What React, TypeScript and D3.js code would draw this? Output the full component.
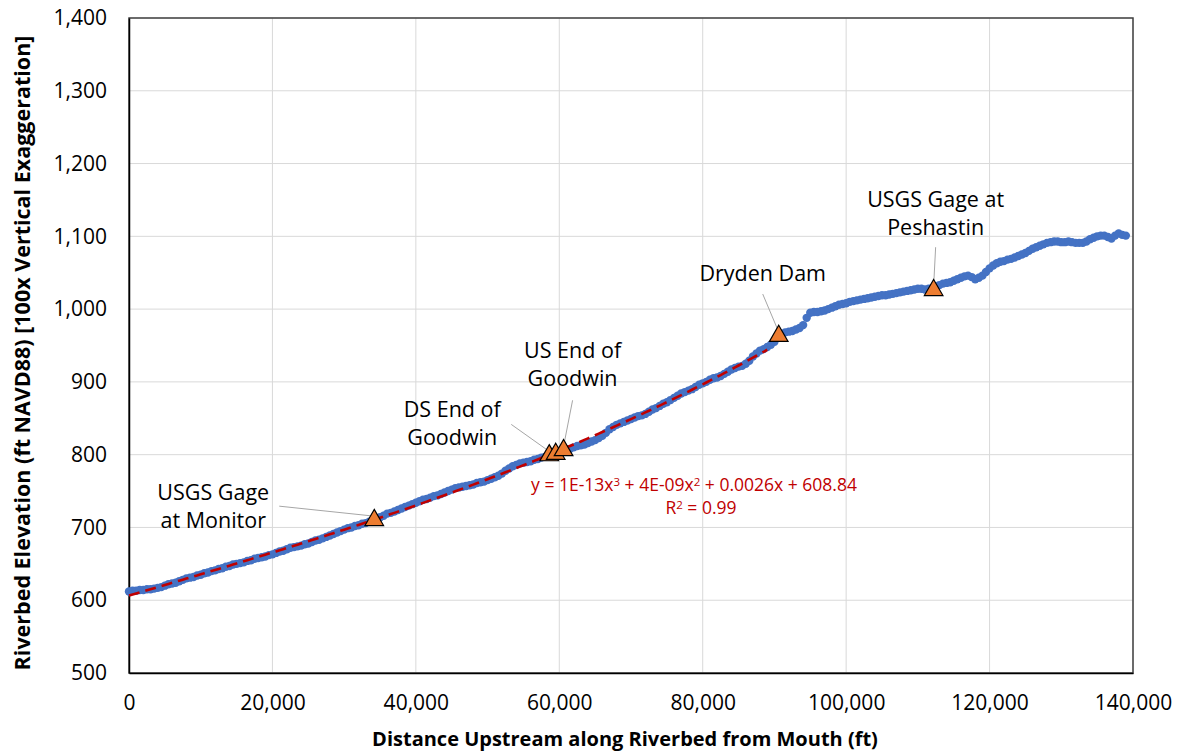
import React, { useEffect, useRef } from 'react';
import * as d3 from 'd3';

const W = 1183;
const H = 753;
const M = { top: 18, right: 50, bottom: 80, left: 129 };

// riverbed profile (ft from mouth)
const distanceFt = [
  0, 500, 1000, 1500, 2000, 2500, 3000, 3500, 4000, 4500, 5000, 5500, 6000, 6500, 7000, 7500, 8000, 8500, 9000, 9500,
  10000, 10500, 11000, 11500, 12000, 12500, 13000, 13500, 14000, 14500, 15000, 15500, 16000, 16500, 17000, 17500, 18000, 18500, 19000, 19500,
  20000, 20500, 21000, 21500, 22000, 22500, 23000, 23500, 24000, 24500, 25000, 25500, 26000, 26500, 27000, 27500, 28000, 28500, 29000, 29500,
  30000, 30500, 31000, 31500, 32000, 32500, 33000, 33500, 34000, 34500, 35000, 35500, 36000, 36500, 37000, 37500, 38000, 38500, 39000, 39500,
  40000, 40500, 41000, 41500, 42000, 42500, 43000, 43500, 44000, 44500, 45000, 45500, 46000, 46500, 47000, 47500, 48000, 48500, 49000, 49500,
  50000, 50500, 51000, 51500, 52000, 52500, 53000, 53500, 54000, 54500, 55000, 55500, 56000, 56500, 57000, 57500, 58000, 58500, 59000, 59500,
  60000, 60500, 61000, 61500, 62000, 62500, 63000, 63500, 64000, 64500, 65000, 65500, 66000, 66500, 67000, 67500, 68000, 68500, 69000, 69500,
  70000, 70500, 71000, 71500, 72000, 72500, 73000, 73500, 74000, 74500, 75000, 75500, 76000, 76500, 77000, 77500, 78000, 78500, 79000, 79500,
  80000, 80500, 81000, 81500, 82000, 82500, 83000, 83500, 84000, 84500, 85000, 85500, 86000, 86500, 87000, 87500, 88000, 88500, 89000, 89500,
  90000, 90500, 91000, 91500, 92000, 92500, 93000, 93500, 94000, 94500, 95000, 95500, 96000, 96500, 97000, 97500, 98000, 98500, 99000, 99500,
  100000, 100500, 101000, 101500, 102000, 102500, 103000, 103500, 104000, 104500, 105000, 105500, 106000, 106500, 107000, 107500, 108000, 108500, 109000, 109500,
  110000, 110500, 111000, 111500, 112000, 112500, 113000, 113500, 114000, 114500, 115000, 115500, 116000, 116500, 117000, 117500, 118000, 118500, 119000, 119500,
  120000, 120500, 121000, 121500, 122000, 122500, 123000, 123500, 124000, 124500, 125000, 125500, 126000, 126500, 127000, 127500, 128000, 128500, 129000, 129500,
  130000, 130500, 131000, 131500, 132000, 132500, 133000, 133500, 134000, 134500, 135000, 135500, 136000, 136500, 137000, 137500, 138000, 138500, 139000,
];

const elevationFt = [
  612, 613, 613, 614, 614, 615, 615, 616, 617, 618, 620, 622, 623, 624, 626, 628, 630, 631, 632, 634,
  635, 637, 638, 640, 641, 643, 644, 646, 647, 649, 650, 651, 652, 654, 655, 657, 658, 659, 660, 662,
  663, 665, 667, 668, 670, 672, 673, 674, 675, 677, 678, 680, 682, 683, 685, 687, 689, 691, 693, 695,
  697, 699, 700, 702, 703, 705, 706, 708, 710, 712, 714, 716, 719, 720, 722, 724, 726, 728, 730, 732,
  734, 736, 738, 739, 741, 743, 744, 746, 748, 750, 752, 754, 755, 756, 757, 758, 759, 761, 762, 763,
  765, 767, 769, 771, 774, 778, 781, 784, 786, 788, 789, 790, 791, 793, 794, 796, 797, 799, 800, 802,
  803, 805, 807, 808, 810, 812, 813, 814, 816, 818, 820, 823, 826, 830, 835, 838, 841, 843, 845, 847,
  849, 851, 853, 854, 856, 859, 862, 864, 867, 870, 872, 875, 878, 881, 884, 886, 888, 890, 893, 896,
  898, 900, 903, 905, 906, 908, 911, 914, 917, 919, 921, 922, 925, 929, 935, 939, 943, 945, 948, 951,
  955, 962, 966, 968, 969, 970, 972, 974, 978, 988, 995, 996, 996, 997, 998, 1000, 1002, 1004, 1006, 1007,
  1008, 1010, 1011, 1012, 1013, 1014, 1015, 1016, 1017, 1018, 1019, 1019, 1020, 1021, 1022, 1023, 1024, 1025, 1026, 1027,
  1028, 1028, 1027, 1028, 1029, 1031, 1033, 1035, 1036, 1037, 1039, 1041, 1043, 1045, 1046, 1044, 1041, 1043, 1046, 1051,
  1056, 1060, 1063, 1065, 1066, 1068, 1069, 1071, 1073, 1075, 1077, 1080, 1083, 1085, 1087, 1089, 1091, 1092, 1093, 1093,
  1092, 1092, 1093, 1092, 1091, 1091, 1091, 1093, 1096, 1098, 1100, 1101, 1101, 1099, 1097, 1101, 1104, 1102, 1101,
];

const landmarkNames = [
  ['USGS Gage', 'at Monitor'],
  ['DS End of', 'Goodwin'],
  [],
  ['US End of', 'Goodwin'],
  ['Dryden Dam'],
  ['USGS Gage at', 'Peshastin'],
];
const landmarkDist = [34200, 58600, 59500, 60600, 90600, 112200];
const landmarkElev = [710, 799, 801, 806, 963, 1026];

// cubic trendline is fitted over the reach below Dryden Dam
const trendEndFt = 89000;
const trendEquation = ['y = 1E-13x', '3', ' + 4E-09x', '2', ' + 0.0026x + 608.84'];
const trendR2 = '0.99';

const xTicks = [0, 20000, 40000, 60000, 80000, 100000, 120000, 140000];
const yTicks = [500, 600, 700, 800, 900, 1000, 1100, 1200, 1300, 1400];

// label placement relative to the marker, in px: text centre, first baseline, leader start
const labelLayout = [
  { dx: -161, dy: -20, lx: -95, ly: -14 },
  { dx: -97, dy: -38, lx: -38, ly: -31 },
  null,
  { dx: 9, dy: -92, lx: 9, ly: -50 },
  { dx: -16, dy: -55, lx: -16, ly: -42 },
  { dx: 2, dy: -83, lx: 2, ly: -43 },
];

const FONT = '"Open Sans", "Noto Sans", sans-serif';

// least-squares cubic, x scaled to 1e5 ft for conditioning
function fitCubic(xs: number[], ys: number[]) {
  const n = 4;
  const A = Array.from({ length: n }, () => new Array(n + 1).fill(0));
  xs.forEach((xv, k) => {
    const t = xv / 1e5;
    const p = [1, t, t * t, t * t * t];
    for (let i = 0; i < n; i++) {
      for (let j = 0; j < n; j++) A[i][j] += p[i] * p[j];
      A[i][n] += p[i] * ys[k];
    }
  });
  for (let c = 0; c < n; c++) {
    let piv = c;
    for (let r = c + 1; r < n; r++) if (Math.abs(A[r][c]) > Math.abs(A[piv][c])) piv = r;
    [A[c], A[piv]] = [A[piv], A[c]];
    for (let r = 0; r < n; r++) {
      if (r === c) continue;
      const f = A[r][c] / A[c][c];
      for (let j = c; j <= n; j++) A[r][j] -= f * A[c][j];
    }
  }
  const b = A.map((row, i) => row[n] / row[i]);
  return (xv: number) => {
    const t = xv / 1e5;
    return b[0] + b[1] * t + b[2] * t * t + b[3] * t * t * t;
  };
}

export default function App() {
  const ref = useRef<SVGSVGElement | null>(null);

  useEffect(() => {
    const el = ref.current;
    if (!el) return;
    const svg = d3.select(el);
    svg.selectAll('*').remove();

    const innerW = 1133 - M.left;
    const innerH = 673 - M.top;

    const x = d3.scaleLinear().domain([0, 140000]).range([M.left, M.left + innerW]);
    const y = d3.scaleLinear().domain([500, 1400]).range([M.top + innerH, M.top]);

    // grid
    const grid = svg.append('g');
    grid
      .selectAll('line.gx')
      .data(xTicks)
      .join('line')
      .attr('x1', (d) => x(d))
      .attr('x2', (d) => x(d))
      .attr('y1', M.top)
      .attr('y2', M.top + innerH)
      .attr('stroke', '#d9d9d9')
      .attr('stroke-width', 1);
    grid
      .selectAll('line.gy')
      .data(yTicks)
      .join('line')
      .attr('x1', M.left)
      .attr('x2', M.left + innerW)
      .attr('y1', (d) => y(d))
      .attr('y2', (d) => y(d))
      .attr('stroke', '#d9d9d9')
      .attr('stroke-width', 1);

    svg
      .append('rect')
      .attr('x', M.left)
      .attr('y', M.top)
      .attr('width', innerW)
      .attr('height', innerH)
      .attr('fill', 'none')
      .attr('stroke', '#404040')
      .attr('stroke-width', 1.5);

    // axes
    const fmt = d3.format(',');
    const xAxis = svg
      .append('g')
      .attr('transform', `translate(0,${M.top + innerH})`)
      .call(d3.axisBottom(x).tickValues(xTicks).tickFormat((d) => fmt(d as number)).tickSize(0).tickPadding(22));
    xAxis.select('.domain').attr('stroke', '#000').attr('stroke-width', 1.5);
    xAxis.selectAll('text').attr('font-family', FONT).attr('font-size', 21).attr('fill', '#000');

    const yAxis = svg
      .append('g')
      .attr('transform', `translate(${M.left},0)`)
      .call(d3.axisLeft(y).tickValues(yTicks).tickFormat((d) => fmt(d as number)).tickSize(0).tickPadding(22));
    yAxis.select('.domain').attr('stroke', '#000').attr('stroke-width', 1.5);
    yAxis.selectAll('text').attr('font-family', FONT).attr('font-size', 21).attr('fill', '#000');

    // riverbed points
    const pts = distanceFt.map((d, i) => ({ d, e: elevationFt[i] }));
    svg
      .append('g')
      .selectAll('circle')
      .data(pts)
      .join('circle')
      .attr('cx', (p) => x(p.d))
      .attr('cy', (p) => y(p.e))
      .attr('r', 4.2)
      .attr('fill', '#4472c4');

    // trendline
    const lower = pts.filter((p) => p.d <= trendEndFt);
    const poly = fitCubic(lower.map((p) => p.d), lower.map((p) => p.e));
    svg
      .append('path')
      .datum(lower.map((p) => p.d))
      .attr('d', d3.line<number>().x((v) => x(v)).y((v) => y(poly(v))))
      .attr('fill', 'none')
      .attr('stroke', '#c00000')
      .attr('stroke-width', 2.6)
      .attr('stroke-dasharray', '11,6');

    // leader lines
    const marks = landmarkDist.map((d, i) => ({ d, e: landmarkElev[i], names: landmarkNames[i], lay: labelLayout[i] }));
    svg
      .append('g')
      .selectAll('line')
      .data(marks.filter((m) => m.lay))
      .join('line')
      .attr('x1', (m) => x(m.d) + m.lay!.lx)
      .attr('y1', (m) => y(m.e) + m.lay!.ly)
      .attr('x2', (m) => x(m.d))
      .attr('y2', (m) => y(m.e) - 4)
      .attr('stroke', '#a6a6a6')
      .attr('stroke-width', 1);

    // landmark triangles
    svg
      .append('g')
      .selectAll('path')
      .data(marks)
      .join('path')
      .attr('transform', (m) => `translate(${x(m.d)},${y(m.e)})`)
      .attr('d', d3.symbol().type(d3.symbolTriangle).size(150)())
      .attr('fill', '#ed7d31')
      .attr('stroke', '#000')
      .attr('stroke-width', 1.2);

    // landmark labels
    const lab = svg.append('g').attr('font-family', FONT).attr('font-size', 21.5).attr('fill', '#000');
    marks.forEach((m) => {
      if (!m.lay) return;
      const t = lab
        .append('text')
        .attr('x', x(m.d) + m.lay.dx)
        .attr('y', y(m.e) + m.lay.dy)
        .attr('text-anchor', 'middle');
      m.names.forEach((s, k) => {
        t.append('tspan')
          .attr('x', x(m.d) + m.lay!.dx)
          .attr('dy', k === 0 ? 0 : 28)
          .text(s);
      });
    });

    // trendline equation
    const eq = svg
      .append('text')
      .attr('x', 694)
      .attr('y', 491)
      .attr('text-anchor', 'middle')
      .attr('font-family', FONT)
      .attr('font-size', 17.5)
      .attr('fill', '#c00000');
    trendEquation.forEach((s, i) => {
      const sup = i % 2 === 1;
      eq.append('tspan')
        .attr('baseline-shift', sup ? '40%' : null)
        .attr('font-size', sup ? 11.5 : null)
        .text(s);
    });
    const r2 = svg
      .append('text')
      .attr('x', 701)
      .attr('y', 514)
      .attr('text-anchor', 'middle')
      .attr('font-family', FONT)
      .attr('font-size', 17.5)
      .attr('fill', '#c00000');
    r2.append('tspan').text('R');
    r2.append('tspan').attr('baseline-shift', '40%').attr('font-size', 11.5).text('2');
    r2.append('tspan').text(` = ${trendR2}`);

    // axis titles
    svg
      .append('text')
      .attr('x', 625)
      .attr('y', 746)
      .attr('text-anchor', 'middle')
      .attr('font-family', FONT)
      .attr('font-weight', 'bold')
      .attr('font-size', 20)
      .attr('fill', '#000')
      .text('Distance Upstream along Riverbed from Mouth (ft)');
    svg
      .append('text')
      .attr('transform', 'translate(21,353) rotate(-90)')
      .attr('text-anchor', 'middle')
      .attr('dominant-baseline', 'central')
      .attr('font-family', FONT)
      .attr('font-weight', 'bold')
      .attr('font-size', 21.5)
      .attr('fill', '#000')
      .text('Riverbed Elevation (ft NAVD88) [100x Vertical Exaggeration]');
  }, []);

  return (
    <svg
      ref={ref}
      width={W}
      height={H}
      style={{ position: 'absolute', left: 0, top: 0, background: '#fff' }}
    />
  );
}
